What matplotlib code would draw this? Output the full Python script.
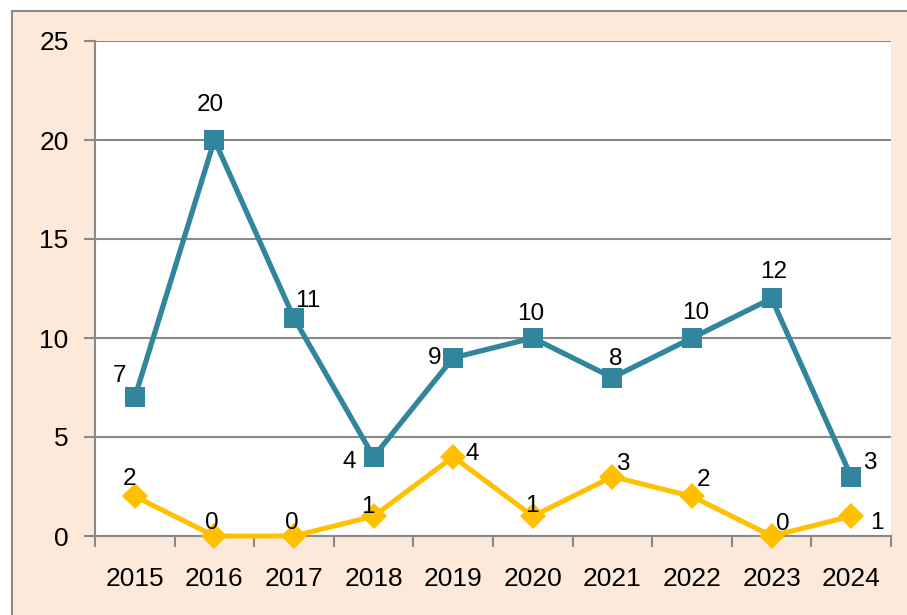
import matplotlib
matplotlib.use("Agg")
import matplotlib.pyplot as plt
from matplotlib.patches import Rectangle

years = ["2015", "2016", "2017", "2018", "2019", "2020", "2021", "2022", "2023", "2024"]
blue_values = [7, 20, 11, 4, 9, 10, 8, 10, 12, 3]
yellow_values = [2, 0, 0, 1, 4, 1, 3, 2, 0, 1]

# label offsets in pixels (dx, dy up)
blue_offsets = [(-15, 21), (-4, 35), (14, 17), (-24, -5), (-19, 0),
                (-2, 24), (3, 19), (4, 25), (2, 26), (19, 14)]
yellow_offsets = [(-5, 17), (-3, 13), (-2, 13), (-6, 9), (19, 3),
                  (-1, 10), (10, 13), (12, 16), (11, 12), (26, -7)]

BLUE = "#31859C"
YELLOW = "#FFC000"
PEACH = "#FDE9D9"
GRID = "#898989"

plt.rcParams['font.family'] = ['Liberation Sans', 'DejaVu Sans']

W, H = 907, 615
fig = plt.figure(figsize=(W / 100, H / 100), dpi=100)
fig.patch.set_facecolor("white")

# outer chart area frame
fig.patches.append(Rectangle((12 / W, -0.2), 1.2, 1.2 - 11 / H,
                             transform=fig.transFigure, facecolor=PEACH,
                             edgecolor=GRID, linewidth=1.5, zorder=-10))

ax = fig.add_axes([95 / W, 1 - 536 / H, 796 / W, (536 - 41) / H])
ax.set_zorder(1)
ax.set_facecolor("white")

x = list(range(len(years)))
ax.plot(x, blue_values, color=BLUE, linewidth=3.8, marker="s", markersize=14,
        markeredgewidth=0, zorder=3, clip_on=False)
ax.plot(x, yellow_values, color=YELLOW, linewidth=3.6, marker="D", markersize=13,
        markeredgewidth=0, zorder=4, clip_on=False)

for xi, v, (dx, dy) in zip(x, blue_values, blue_offsets):
    ax.annotate(str(v), (xi, v), xytext=(dx * 0.72, dy * 0.72), textcoords="offset points",
                ha="center", va="center", fontsize=17.5, color="black", zorder=5)
for xi, v, (dx, dy) in zip(x, yellow_values, yellow_offsets):
    ax.annotate(str(v), (xi, v), xytext=(dx * 0.72, dy * 0.72), textcoords="offset points",
                ha="center", va="center", fontsize=17.5, color="black", zorder=5)

ax.set_xlim(-0.5, len(years) - 0.5)
ax.set_ylim(0, 25)
ax.set_yticks([0, 5, 10, 15, 20, 25])
ax.set_xticks(x)
ax.set_xticklabels(years)
ax.set_xticks([i - 0.5 for i in range(len(years) + 1)], minor=True)

ax.yaxis.grid(True, color=GRID, linewidth=1.5)
ax.set_axisbelow(True)

for s in ["top", "right"]:
    ax.spines[s].set_visible(False)
for s in ["left", "bottom"]:
    ax.spines[s].set_color(GRID)
    ax.spines[s].set_linewidth(1.5)

ax.tick_params(axis="y", length=8, width=1.5, color=GRID, labelsize=19, pad=11)
ax.tick_params(axis="x", which="major", length=0, labelsize=19, pad=22)
ax.tick_params(axis="x", which="minor", length=8, width=1.5, color=GRID)

fig.savefig("out.png", dpi=100)
